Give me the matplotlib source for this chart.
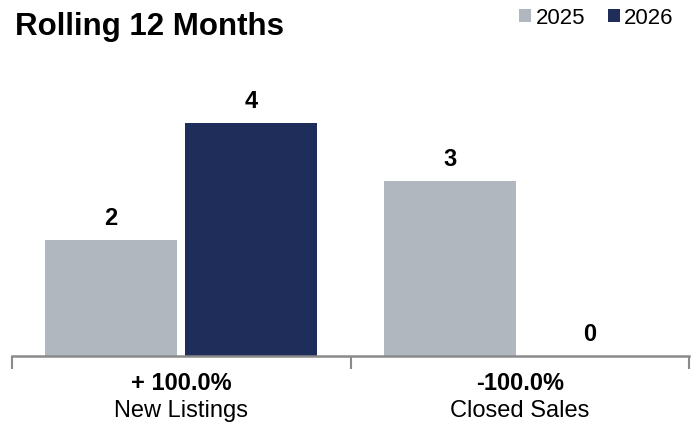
import matplotlib.pyplot as plt
import numpy as np

categories = ["New Listings", "Closed Sales"]
changes = ["+ 100.0%", "-100.0%"]
years = ["2025", "2026"]
values_2025 = [2, 3]
values_2026 = [4, 0]

gray = "#B0B7BE"
navy = "#1F2D5A"

plt.rcParams['font.family'] = ['Liberation Sans', 'DejaVu Sans']

fig = plt.figure(figsize=(6.96, 4.27), dpi=100)
ax = fig.add_axes([12 / 696, 1 - 357 / 427, 677 / 696, 297 / 427])

x = np.arange(len(categories))
w = 0.39
off = 0.207
b1 = ax.bar(x - off, values_2025, w, color=gray, label=years[0])
b2 = ax.bar(x + off, values_2026, w, color=navy, label=years[1])

for bars in (b1, b2):
    for rect in bars:
        h = rect.get_height()
        ax.annotate(f"{h:g}", (rect.get_x() + rect.get_width() / 2, h),
                    xytext=(0, 11.5), textcoords="offset points",
                    ha="center", va="baseline", fontsize=17, fontweight="bold")

ax.set_xlim(-0.5, 1.5)
ax.set_ylim(0, 5.1)
ax.set_yticks([])
for s in ("top", "right", "left"):
    ax.spines[s].set_visible(False)
ax.spines["bottom"].set_color("#8a8a8a")
ax.spines["bottom"].set_linewidth(1.8)

ax.set_xticks([-0.5, 0.5, 1.5])
ax.set_xticklabels([])
ax.tick_params(axis="x", length=9, width=1.5, color="#8a8a8a", direction="out")

for i, cat in enumerate(categories):
    ax.annotate(changes[i], (x[i], 0), xytext=(0, -26 * 0.72),
                textcoords="offset points", ha="center", va="center",
                fontsize=17, fontweight="bold")
    ax.annotate(cat, (x[i], 0), xytext=(0, -54 * 0.72),
                textcoords="offset points", ha="center", va="center",
                fontsize=17)

fig.text(15 / 696, 1 - 27 / 427, "Rolling 12 Months", fontsize=22.5,
         fontweight="bold", va="center", ha="left")

leg = fig.legend(handles=[b1, b2], labels=years, loc="upper right",
                 bbox_to_anchor=(1 - 9 / 696, 1 + 5 / 427), ncol=2, frameon=False,
                 fontsize=16, handlelength=0.55, handleheight=0.55,
                 handletextpad=0.2, columnspacing=1.0, borderaxespad=0.2)

fig.savefig("out.png", dpi=100)
